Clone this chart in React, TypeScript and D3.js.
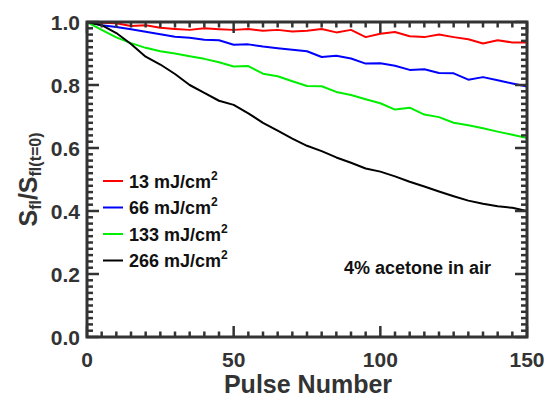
import React, { useEffect, useRef } from 'react';
import * as d3 from 'd3';

// pulse numbers, sampled every 5 pulses
const pulses = d3.range(0, 151, 5);

// normalised fluorescence signal
const s13 = [1.0, 0.998, 0.996, 0.987, 0.99, 0.982, 0.978, 0.975, 0.98, 0.977, 0.975, 0.978, 0.972, 0.975, 0.97, 0.972,
  0.978, 0.967, 0.975, 0.952, 0.963, 0.968, 0.955, 0.952, 0.96, 0.952, 0.945, 0.932, 0.942, 0.935, 0.935];
const s66 = [1.0, 0.99, 0.984, 0.977, 0.969, 0.961, 0.953, 0.95, 0.944, 0.942, 0.928, 0.929, 0.922, 0.917, 0.912, 0.907,
  0.889, 0.893, 0.884, 0.868, 0.869, 0.861, 0.848, 0.85, 0.838, 0.837, 0.817, 0.825, 0.815, 0.805, 0.795];
const s133 = [1.0, 0.975, 0.951, 0.933, 0.918, 0.907, 0.9, 0.891, 0.883, 0.872, 0.859, 0.86, 0.836, 0.828, 0.812, 0.797,
  0.796, 0.778, 0.768, 0.755, 0.742, 0.722, 0.728, 0.706, 0.698, 0.68, 0.672, 0.663, 0.652, 0.642, 0.632];
const s266 = [1.0, 0.99, 0.965, 0.93, 0.89, 0.865, 0.835, 0.8, 0.775, 0.75, 0.737, 0.71, 0.68, 0.655, 0.63, 0.607,
  0.59, 0.57, 0.553, 0.535, 0.525, 0.51, 0.493, 0.478, 0.462, 0.447, 0.433, 0.423, 0.415, 0.41, 0.4];

const fluences = ['13', '66', '133', '266'];
const allSeries = [s13, s66, s133, s266];
const colors = ['#ff0000', '#0000ff', '#00ee00', '#000000'];

const xTicks = [0, 50, 100, 150];
const yTicks = [0.0, 0.2, 0.4, 0.6, 0.8, 1.0];

const W = 554;
const H = 400;
const margin = { top: 22, right: 27, bottom: 63, left: 87 };
const axisColor = '#333333';
const font = 'Arial, "Liberation Sans", Helvetica, sans-serif';

export default function App() {
  const ref = useRef<SVGSVGElement>(null);

  useEffect(() => {
    const svg = d3.select(ref.current);
    svg.selectAll('*').remove();

    const x = d3.scaleLinear().domain([0, 150]).range([margin.left, W - margin.right]);
    const y = d3.scaleLinear().domain([0, 1]).range([H - margin.bottom, margin.top]);
    const [x0, x1] = x.range();
    const [y0, y1] = y.range();

    svg.append('clipPath').attr('id', 'plotclip')
      .append('rect')
      .attr('x', x0).attr('y', y1)
      .attr('width', x1 - x0).attr('height', y0 - y1);

    // curves
    const line = d3.line<number>()
      .x((_, i) => x(pulses[i]))
      .y(d => y(d));

    const lines = svg.append('g').attr('clip-path', 'url(#plotclip)');
    allSeries.forEach((vals, i) => {
      lines.append('path')
        .attr('d', line(vals))
        .attr('fill', 'none')
        .attr('stroke', colors[i])
        .attr('stroke-width', 2)
        .attr('stroke-linejoin', 'round');
    });

    // ticks on all four sides, pointing inward
    const ticks = svg.append('g').attr('stroke', axisColor).attr('stroke-width', 2.5);
    d3.range(0, 151, 5).forEach(v => {
      const len = v % 50 === 0 ? 11 : 5.5;
      ticks.append('line').attr('x1', x(v)).attr('x2', x(v)).attr('y1', y0).attr('y2', y0 - len);
      ticks.append('line').attr('x1', x(v)).attr('x2', x(v)).attr('y1', y1).attr('y2', y1 + len);
    });
    d3.range(0, 51).map(i => i / 50).forEach((v, i) => {
      const len = i % 10 === 0 ? 12 : 6;
      ticks.append('line').attr('x1', x0).attr('x2', x0 + len).attr('y1', y(v)).attr('y2', y(v));
      ticks.append('line').attr('x1', x1).attr('x2', x1 - len).attr('y1', y(v)).attr('y2', y(v));
    });

    // frame
    svg.append('rect')
      .attr('x', x0).attr('y', y1)
      .attr('width', x1 - x0).attr('height', y0 - y1)
      .attr('fill', 'none')
      .attr('stroke', axisColor)
      .attr('stroke-width', 3);

    // tick labels
    svg.append('g').selectAll('text')
      .data(xTicks).enter().append('text')
      .attr('x', d => x(d)).attr('y', y0 + 30)
      .attr('text-anchor', 'middle')
      .attr('font-family', font).attr('font-weight', 'bold').attr('font-size', 21)
      .attr('fill', axisColor)
      .text(d => d);

    svg.append('g').selectAll('text')
      .data(yTicks).enter().append('text')
      .attr('x', x0 - 7).attr('y', d => y(d) + 7.5)
      .attr('text-anchor', 'end')
      .attr('font-family', font).attr('font-weight', 'bold').attr('font-size', 21)
      .attr('fill', axisColor)
      .text(d => d.toFixed(1));

    // axis titles
    svg.append('text')
      .attr('x', (x0 + x1) / 2 + 1).attr('y', H - 7)
      .attr('text-anchor', 'middle')
      .attr('font-family', font).attr('font-weight', 'bold').attr('font-size', 25)
      .attr('fill', axisColor)
      .text('Pulse Number');

    const yt = svg.append('text')
      .attr('transform', `translate(${37}, ${(y0 + y1) / 2}) rotate(-90)`)
      .attr('text-anchor', 'middle')
      .attr('font-family', font).attr('font-weight', 'bold').attr('font-size', 25)
      .attr('fill', axisColor);
    yt.append('tspan').text('S');
    yt.append('tspan').attr('font-size', 16).attr('dy', 4).text('fl');
    yt.append('tspan').attr('dy', -4).text('/S');
    yt.append('tspan').attr('font-size', 16).attr('dy', 4).text('fl(t=0)');

    // legend
    const legend = svg.append('g');
    fluences.forEach((f, i) => {
      const ly = 181 + i * 26.5;
      legend.append('line')
        .attr('x1', 103).attr('x2', 123).attr('y1', ly).attr('y2', ly)
        .attr('stroke', colors[i]).attr('stroke-width', 2);
      const t = legend.append('text')
        .attr('x', 129).attr('y', ly + 6.5)
        .attr('font-family', font).attr('font-weight', 'bold').attr('font-size', 18)
        .attr('fill', '#111');
      t.append('tspan').text(`${f} mJ/cm`);
      t.append('tspan').attr('font-size', 12).attr('dy', -8).text('2');
    });

    svg.append('text')
      .attr('x', 344).attr('y', 274)
      .attr('font-family', font).attr('font-weight', 'bold').attr('font-size', 18)
      .attr('fill', '#111')
      .text('4% acetone in air');
  }, []);

  return (
    <svg ref={ref} width={W} height={H}
      style={{ position: 'absolute', left: 0, top: 0, background: '#fff' }} />
  );
}
